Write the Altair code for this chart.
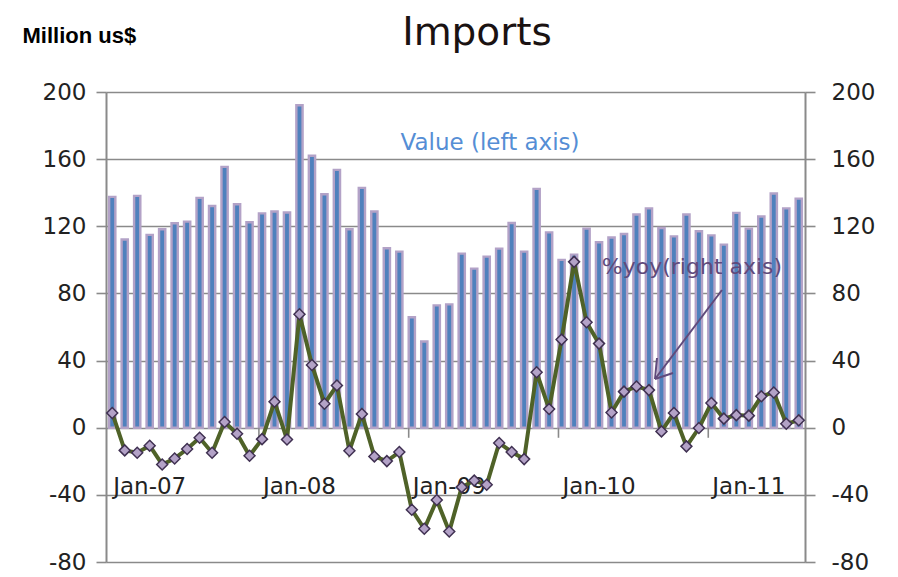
import altair as alt
import pandas as pd

months = [
    "Oct-06", "Nov-06", "Dec-06",
    "Jan-07", "Feb-07", "Mar-07", "Apr-07", "May-07", "Jun-07", "Jul-07", "Aug-07", "Sep-07", "Oct-07", "Nov-07", "Dec-07",
    "Jan-08", "Feb-08", "Mar-08", "Apr-08", "May-08", "Jun-08", "Jul-08", "Aug-08", "Sep-08", "Oct-08", "Nov-08", "Dec-08",
    "Jan-09", "Feb-09", "Mar-09", "Apr-09", "May-09", "Jun-09", "Jul-09", "Aug-09", "Sep-09", "Oct-09", "Nov-09", "Dec-09",
    "Jan-10", "Feb-10", "Mar-10", "Apr-10", "May-10", "Jun-10", "Jul-10", "Aug-10", "Sep-10", "Oct-10", "Nov-10", "Dec-10",
    "Jan-11", "Feb-11", "Mar-11", "Apr-11", "May-11",
]

value_musd = [
    137.5, 112.1, 138.1, 114.9, 118.2, 121.8, 122.8, 136.9, 132.1, 155.4,
    133.1, 122.4, 127.7, 128.8, 128.2, 192.1, 162.0, 139.1, 153.6, 118.2,
    142.9, 128.8, 106.9, 104.9, 65.8, 51.4, 72.9, 73.5, 103.7, 94.8,
    101.9, 106.7, 122.0, 104.9, 142.3, 116.4, 100.0, 103.1, 118.6, 110.5,
    113.3, 115.4, 127.0, 130.7, 119.0, 114.0, 127.0, 117.0, 114.6, 109.1,
    128.0, 118.6, 125.8, 139.5, 130.7, 136.5,
]

yoy_pct = [
    8.8, -13.5, -14.9, -10.7, -21.9, -18.3, -12.7, -6.0, -14.9, 3.4,
    -3.6, -16.7, -6.8, 15.5, -7.0, 67.6, 37.4, 14.3, 25.2, -13.7,
    8.2, -17.1, -19.9, -14.5, -48.9, -60.2, -43.1, -61.8, -35.4, -31.5,
    -34.0, -9.1, -14.5, -18.7, 33.0, 11.1, 52.5, 98.8, 62.8, 50.1,
    9.1, 21.5, 24.6, 22.4, -2.2, 8.8, -11.1, -0.2, 14.7, 5.4,
    7.5, 7.2, 18.7, 21.0, 2.4, 4.4,
]

tick_months = ["Oct-07", "Oct-08", "Oct-09", "Oct-10"]
y_ticks = [-80, -40, 0, 40, 80, 120, 160, 200]

df = pd.DataFrame({"month": months, "value": value_musd, "yoy": yoy_pct})
ticks_df = pd.DataFrame({"month": tick_months})

GRID = "#8a8a8a"
FONT = "DejaVu Sans"
yscale = alt.Scale(domain=[-80, 200], nice=False, zero=False)
xscale = alt.Scale(paddingInner=0.5, paddingOuter=0.25)
plain_num = "'' + datum.value"

base = alt.Chart(df)

bars = base.mark_bar(color="#4F81BD", stroke="#B3A2C7", strokeWidth=2.4).encode(
    x=alt.X("month:N", sort=months, scale=xscale, title=None,
            axis=alt.Axis(orient="bottom", offset=-134, domain=False, ticks=False, grid=False,
                          labelAngle=0, labelPadding=47, labelFont=FONT, labelFontSize=23,
                          labelColor="#222222", labelBaseline="top",
                          labelExpr="substring(datum.label, 0, 3) == 'Jan' ? datum.label : ''",
                          labelOverlap=False)),
    y=alt.Y("value:Q", scale=yscale,
            axis=alt.Axis(orient="left", values=y_ticks, grid=True, gridColor=GRID, gridWidth=1.6,
                          domainColor=GRID, domainWidth=2, tickColor=GRID, tickWidth=1.6, tickSize=10,
                          labelFont=FONT, labelFontSize=23, labelColor="#222222", labelPadding=10,
                          labelExpr=plain_num,
                          title="Million us$", titleAngle=0, titleAlign="left", titleBaseline="alphabetic",
                          titleX=-84, titleY=-50, titleFont="Liberation Sans", titleFontSize=22,
                          titleFontWeight="bold", titleColor="#000000")),
)

xticks = alt.Chart(ticks_df).mark_rule(color=GRID, strokeWidth=1.6).encode(
    x=alt.X("month:N", sort=months, bandPosition=0, scale=xscale),
    y=alt.datum(0),
    y2=alt.datum(-6),
)

left = alt.layer(bars, xticks)

line = base.mark_line(color="#4F6228", strokeWidth=4).encode(
    x=alt.X("month:N", sort=months, scale=xscale),
    y=alt.Y("yoy:Q", scale=yscale,
            axis=alt.Axis(orient="right", values=y_ticks, grid=False,
                          domainColor=GRID, domainWidth=2, tickColor=GRID, tickWidth=1.6, tickSize=10,
                          labelFont=FONT, labelFontSize=23, labelColor="#222222", labelPadding=16,
                          labelExpr=plain_num, title=None)),
)
points = base.mark_point(shape="diamond", filled=True, fill="#B3A2C7", stroke="#403152",
                         strokeWidth=1.5, size=120, opacity=1).encode(
    x=alt.X("month:N", sort=months, scale=xscale),
    y=alt.Y("yoy:Q", scale=yscale),
)

one = pd.DataFrame({"a": [0]})
title_txt = alt.Chart(one).mark_text(text="Imports", font=FONT, fontSize=39, color="#1a1212",
                                     align="center", baseline="alphabetic").encode(
    x=alt.value(371), y=alt.value(-47))
value_lbl = alt.Chart(one).mark_text(text="Value (left axis)", font=FONT, fontSize=23,
                                     color="#558ED5", align="center", baseline="alphabetic").encode(
    x=alt.value(384), y=alt.value(58))
yoy_lbl = alt.Chart(one).mark_text(text="%yoy(right axis)", font=FONT, fontSize=22,
                                   color="#604A7B", align="center", baseline="alphabetic").encode(
    x=alt.value(586), y=alt.value(182))
ARROW = "#604A7B"
arrow_shaft = alt.Chart(one).mark_rule(color=ARROW, strokeWidth=2).encode(
    x=alt.value(616), y=alt.value(198), x2=alt.value(549), y2=alt.value(287))
arrow_w1 = alt.Chart(one).mark_rule(color=ARROW, strokeWidth=2).encode(
    x=alt.value(549), y=alt.value(287), x2=alt.value(551), y2=alt.value(266))
arrow_w2 = alt.Chart(one).mark_rule(color=ARROW, strokeWidth=2).encode(
    x=alt.value(549), y=alt.value(287), x2=alt.value(567), y2=alt.value(281))

right = alt.layer(line, points, yoy_lbl, arrow_shaft, arrow_w1, arrow_w2, value_lbl, title_txt)

chart = alt.layer(left, right).resolve_scale(y="independent").properties(
    width=699, height=470,
    autosize=alt.AutoSizeParams(type="none"),
    padding={"left": 98, "top": 84, "right": 85, "bottom": 15},
).configure_view(stroke=None).configure(background="white")

chart.save("out.html", embed_options={"renderer": "svg", "actions": False})
